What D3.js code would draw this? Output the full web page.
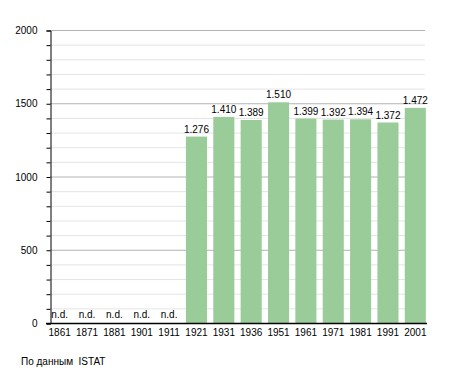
<!DOCTYPE html>
<html>
<head>
<meta charset="utf-8">
<script src="https://cdn.jsdelivr.net/npm/d3@7"></script>
<style>
  body { margin: 0; background: #fff; }
  text { font-family: "Liberation Sans", Arial, sans-serif; font-size: 10px; fill: #000; }
</style>
</head>
<body>
<svg id="chart" width="455" height="373"></svg>
<script>
const years = ["1861", "1871", "1881", "1901", "1911", "1921", "1931", "1936", "1951", "1961", "1971", "1981", "1991", "2001"];
// null = n.d. (no data)
const population = [null, null, null, null, null, 1276, 1410, 1389, 1510, 1399, 1392, 1394, 1372, 1472];
const majorTicks = [0, 500, 1000, 1500, 2000];
const minorStep = 100;
const source = "По данным  ISTAT";

const svg = d3.select("#chart");

const x = d3.scaleBand()
  .domain(years)
  .range([46, 429])
  .paddingInner(0.23)
  .paddingOuter(0.115);

const y = d3.scaleLinear()
  .domain([0, 2000])
  .range([323.5, 30.5]);

const minorTicks = d3.range(0, 2001, minorStep).filter(v => v % 500 !== 0);

// minor gridlines
svg.append("g")
  .selectAll("line")
  .data(minorTicks)
  .join("line")
  .attr("x1", 50).attr("x2", 425)
  .attr("y1", d => y(d)).attr("y2", d => y(d))
  .attr("stroke", "#e4e4e4")
  .attr("stroke-width", 1);

// major gridlines
svg.append("g")
  .selectAll("line")
  .data(majorTicks.filter(d => d > 0))
  .join("line")
  .attr("x1", 50).attr("x2", 425)
  .attr("y1", d => y(d)).attr("y2", d => y(d))
  .attr("stroke", "#b3b3b3")
  .attr("stroke-width", 1);

// bars
svg.append("g")
  .selectAll("rect")
  .data(years.map((yr, i) => ({ year: yr, value: population[i] })).filter(d => d.value !== null))
  .join("rect")
  .attr("x", d => x(d.year))
  .attr("width", x.bandwidth())
  .attr("y", d => y(d.value))
  .attr("height", d => y(0) - y(d.value))
  .attr("fill", "#99cc99");

// value labels
svg.append("g")
  .selectAll("text")
  .data(years.map((yr, i) => ({ year: yr, value: population[i] })))
  .join("text")
  .attr("x", d => x(d.year) + x.bandwidth() / 2)
  .attr("y", d => d.value === null ? y(0) - 6 : y(d.value) - 4)
  .attr("text-anchor", "middle")
  .text(d => d.value === null ? "n.d." : d3.format(".3f")(d.value / 1000));

// y axis
const yAxis = d3.axisLeft(y)
  .tickValues(d3.range(0, 2001, minorStep))
  .tickSize(4)
  .tickFormat(d => d % 500 === 0 ? d : "");

svg.append("g")
  .attr("transform", "translate(50.5,0)")
  .call(yAxis)
  .call(g => g.select(".domain").attr("stroke", "#000"))
  .call(g => g.selectAll(".tick text").attr("x", -13).style("font-size", "10px").style("font-family", "Liberation Sans, Arial, sans-serif"));

// x axis
const xAxis = d3.axisBottom(x).tickSize(0).tickPadding(5);
svg.append("g")
  .attr("transform", `translate(0,${y(0)})`)
  .call(xAxis)
  .call(g => g.select(".domain").attr("d", "M46,0H427").attr("stroke", "#000").attr("stroke-width", 1.5))
  .call(g => g.selectAll(".tick text").style("font-size", "10px").style("font-family", "Liberation Sans, Arial, sans-serif"));

// source note
svg.append("text")
  .attr("x", 21)
  .attr("y", 365)
  .style("white-space", "pre")
  .text(source);
</script>
</body>
</html>
